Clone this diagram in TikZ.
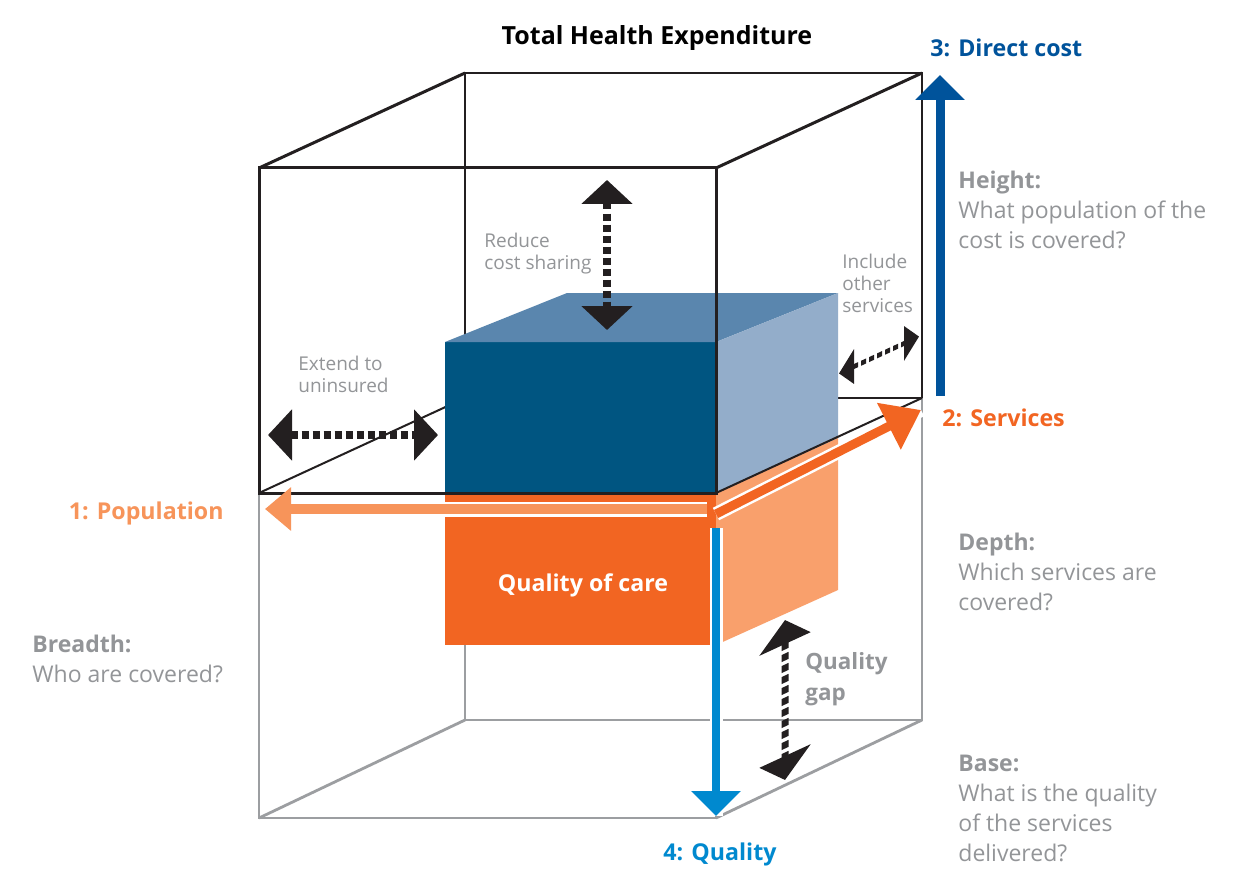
\documentclass[tikz,border=0pt]{standalone}
\usepackage{fontspec}
\setmainfont{Open Sans}
\usetikzlibrary{arrows.meta}

\definecolor{boxblack}{HTML}{231F20}
\definecolor{boxgray}{HTML}{9C9EA1}
\definecolor{labelgray}{HTML}{939598}
\definecolor{frontblue}{HTML}{005581}
\definecolor{topblue}{HTML}{5A86AE}
\definecolor{sideblue}{HTML}{93ADCA}
\definecolor{careorange}{HTML}{F26522}
\definecolor{sideorange}{HTML}{F9A06C}
\definecolor{poporange}{HTML}{F7945A}
\definecolor{costblue}{HTML}{00539B}
\definecolor{qualblue}{HTML}{0089CF}

\tikzset{
  frontline/.style={draw=boxblack, line width=1.5pt},
  backline/.style={draw=boxblack, line width=1pt},
  floorline/.style={draw=boxgray, line width=1.4pt},
  dimarrow/.style={boxblack, line width=4pt, dash pattern=on 3.5pt off 2pt,
    {Triangle[width=25pt,length=12pt]}-{Triangle[width=25pt,length=12pt]}},
  smalldimarrow/.style={boxblack, line width=2.5pt, dash pattern=on 2.5pt off 1.5pt,
    {Triangle[width=17pt,length=7.5pt]}-{Triangle[width=17pt,length=7.5pt]}},
  axisarrow/.style={line width=#1, line cap=butt,
    preaction={draw=white, line width=#1+2.5pt, -{}}},
  note/.style={text=labelgray, font=\fontsize{11.5}{15}\selectfont, align=left,
    anchor=north west, inner sep=0pt},
  smallnote/.style={text=labelgray, font=\fontsize{9.5}{11}\selectfont, align=left,
    anchor=north west, inner sep=0pt},
  axislabel/.style={font=\bfseries\fontsize{11.6}{14}\selectfont, inner sep=0pt},
}

\begin{document}
\begin{tikzpicture}[x=0.5pt,y=-0.5pt]
\path[use as bounding box, fill=white] (0,0) rectangle (1240,877);

% back edges, upper box
\draw[backline] (465,398) -- (465,73) -- (922,73) -- (922,398) -- cycle;
\draw[backline] (259,493) -- (465,398);
% lower box
\draw[floorline] (465,398) -- (465,720) -- (922,720) -- (922,398);
\draw[floorline] (259,818) -- (465,720);
\draw[floorline] (716,818) -- (922,720);
\draw[floorline] (259,493) -- (259,818) -- (716,818) -- (716,493);

% covered part
\fill[frontblue] (445,342) rectangle (716,493);
\fill[topblue] (445,342) -- (567,293) -- (838,293) -- (716,342) -- cycle;
\fill[sideblue] (716,342) -- (838,293) -- (838,438) -- (716,493) -- cycle;
\fill[careorange] (445,493) rectangle (716,645);
\fill[sideorange] (716,493) -- (838,438) -- (838,590) -- (716,645) -- cycle;

% front edges, upper box
\draw[frontline] (259,168) rectangle (716,493);
\draw[frontline] (259,168) -- (465,73);
\draw[frontline] (716,168) -- (922,73);
\draw[backline] (716,493) -- (922,398);

\node[text=white, font=\bfseries\fontsize{11.6}{14}\selectfont] (care) at (583,585) {Quality of care};

% axes
\coordinate (pop start) at (707,509);
\coordinate (pop end) at (265,509);
\coordinate (serv start) at (716,514);
\coordinate (serv end) at (921,410);
\coordinate (cost start) at (940,396);
\coordinate (cost end) at (940,75);
\coordinate (qual start) at (716,528);
\coordinate (qual end) at (716,816);

\draw[axisarrow=5pt, poporange, -{Triangle[width=21pt,length=13pt]}] (pop start) -- (pop end);
\draw[axisarrow=4.5pt, careorange, -{Triangle[width=25pt,length=18pt]}] (serv start) -- (serv end);
\draw[axisarrow=4.5pt, costblue, -{Triangle[width=24pt,length=12.5pt]}] (cost start) -- (cost end);
\draw[axisarrow=4pt, qualblue, -{Triangle[width=24pt,length=12.5pt]}] (qual start) -- (qual end);

% gaps to close
\coordinate (ext left) at (268,435);
\coordinate (ext right) at (438,435);
\draw[dimarrow] (ext left) -- (ext right);

\coordinate (share top) at (607,180);
\coordinate (share bottom) at (607,330);
\draw[dimarrow] (share top) -- (share bottom);

\begin{scope}[transform canvas={shift={(879,355)}, yslant=0.461}]
  \coordinate (other left) at (-40,0);
  \coordinate (other right) at (40,0);
  \draw[smalldimarrow] (other left) -- (other right);
\end{scope}

\begin{scope}[transform canvas={shift={(785,700)}, yslant=0.461}]
  \coordinate (gap top) at (0,-80);
  \coordinate (gap bottom) at (0,80);
  \draw[dimarrow, line width=3.5pt] (gap top) -- (gap bottom);
\end{scope}

% labels
\node[font=\bfseries\fontsize{12.5}{14}\selectfont] (title) at (657,38) {Total Health Expenditure};
\node[axislabel, text=costblue, anchor=west] (cost) at (930,48) {3: Direct cost};
\node[axislabel, text=careorange, anchor=west] (serv) at (942,418) {2: Services};
\node[axislabel, text=poporange, anchor=east] (pop) at (224,513) {1: Population};
\node[axislabel, text=qualblue] (qual) at (720,854) {4: Quality};

\node[smallnote] (reduce) at (484,233) {Reduce\\cost sharing};
\node[smallnote] (include) at (842,254) {Include\\other\\services};
\node[smallnote] (extend) at (298,356) {Extend to\\uninsured};
\node[note, font=\bfseries\fontsize{11.2}{15.5}\selectfont] (gap) at (805,652) {Quality\\gap};

\node[note] (height) at (958,171) {\textbf{Height:}\\What population of the\\cost is covered?};
\node[note] (depth) at (958,533) {\textbf{Depth:}\\Which services are\\covered?};
\node[note] (breadth) at (32,635) {\textbf{Breadth:}\\Who are covered?};
\node[note] (base) at (958,755) {\textbf{Base:}\\What is the quality\\of the services\\delivered?};
\end{tikzpicture}
\end{document}
